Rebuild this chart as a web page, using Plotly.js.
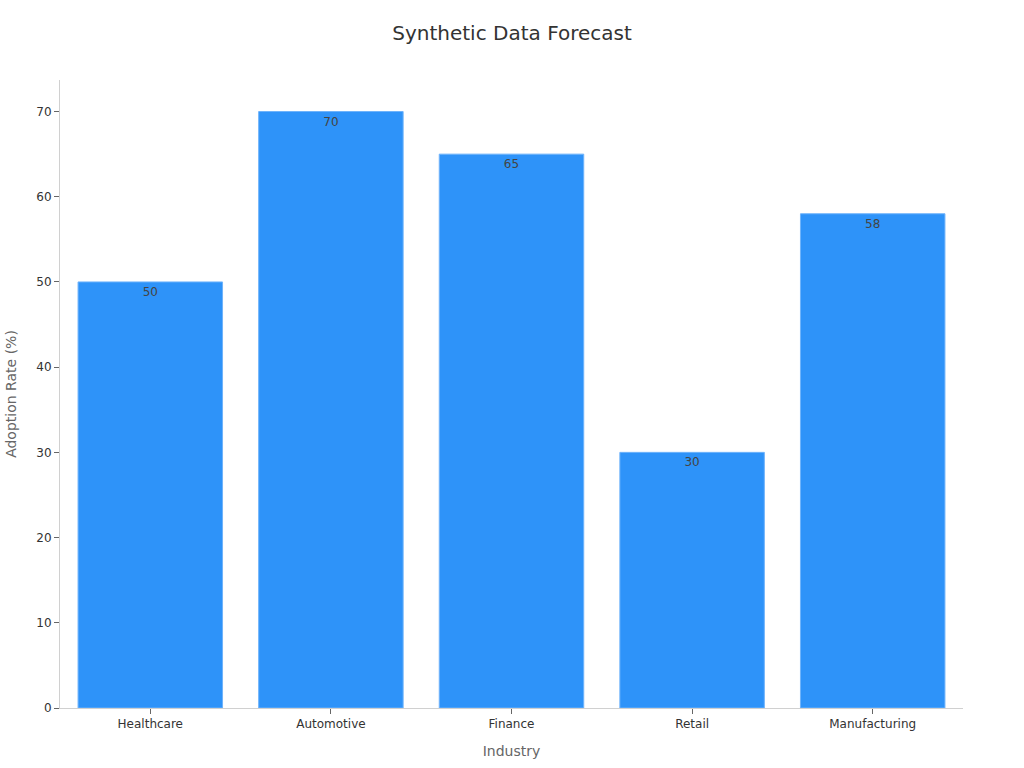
<!DOCTYPE html>
<html>
<head>
<meta charset="utf-8">
<script src="https://cdn.plot.ly/plotly-3.0.1.min.js"></script>
<style>
  html, body { margin: 0; padding: 0; background: #fff; }
  #chart { width: 1024px; height: 768px; }
</style>
</head>
<body>
<div id="chart"></div>
<script>
// Values
const industries = ["Healthcare", "Automotive", "Finance", "Retail", "Manufacturing"];
const adoption = [50, 70, 65, 30, 58];

const FONT = "DejaVu Sans, sans-serif";
const BAR_COLOR = "#2e93f9";

Plotly.newPlot(
  "chart",
  [
    {
      type: "bar",
      x: industries,
      y: adoption,
      text: adoption.map(String),
      textposition: "inside",
      insidetextanchor: "end",
      textfont: { family: FONT, size: 12, color: "#444444" },
      marker: { color: BAR_COLOR, line: { color: "#6fb3fb", width: 1 } },
      hoverinfo: "x+y",
    },
  ],
  {
    width: 1024,
    height: 768,
    font: { family: FONT, color: "#333333" },
    title: {
      text: "Synthetic Data Forecast",
      font: { family: FONT, size: 20, color: "#333333" },
      x: 0.5,
      xanchor: "center",
      y: 0.957,
      yanchor: "middle",
    },
    margin: { l: 60, r: 61, t: 80, b: 60 },
    bargap: 0.2,
    showlegend: false,
    plot_bgcolor: "#ffffff",
    paper_bgcolor: "#ffffff",
    xaxis: {
      title: { text: "Industry", font: { family: FONT, size: 14, color: "#666666" }, standoff: 15 },
      tickfont: { family: FONT, size: 12, color: "#333333" },
      showline: true,
      linecolor: "#d0d0d0",
      ticks: "outside",
      ticklen: 5,
      tickcolor: "#666666",
      showgrid: false,
    },
    yaxis: {
      title: { text: "Adoption Rate (%)", font: { family: FONT, size: 14, color: "#666666" }, standoff: 16 },
      tickfont: { family: FONT, size: 12, color: "#333333" },
      range: [0, 73.7],
      dtick: 10,
      showline: true,
      linecolor: "#d0d0d0",
      ticks: "outside",
      ticklen: 5,
      tickcolor: "#666666",
      showgrid: false,
      zeroline: false,
    },
  },
  { displayModeBar: false, responsive: false }
);
</script>
</body>
</html>
